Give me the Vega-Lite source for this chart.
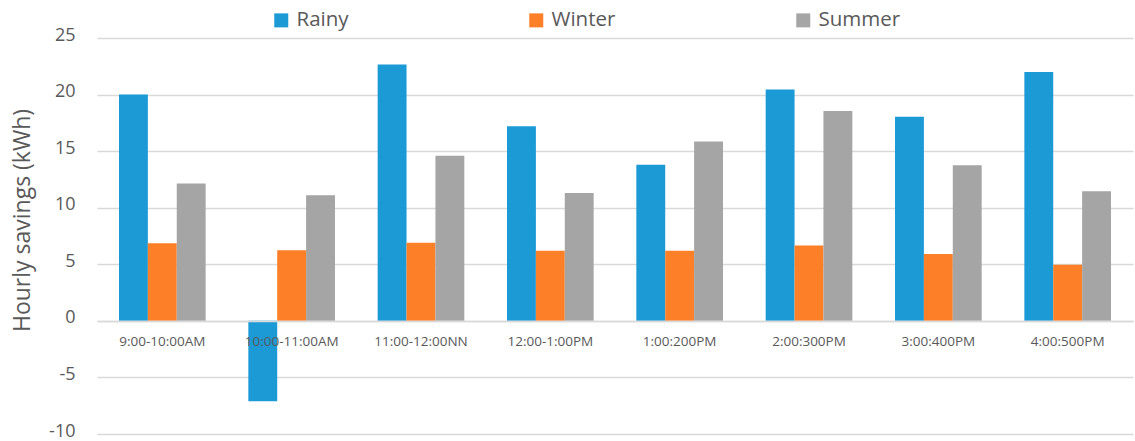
{
  "$schema": "https://vega.github.io/schema/vega-lite/v6.json",
  "width": 1036,
  "height": 396,
  "autosize": {"type": "none"},
  "padding": {"left": 97, "top": 38, "right": 2, "bottom": 7},
  "background": "white",
  "config": {
    "view": {"stroke": null},
    "font": "Open Sans"
  },
  "data": {
    "values": [
      {"slot": "9:00-10:00AM", "season": "Rainy", "savings": 20.0},
      {"slot": "9:00-10:00AM", "season": "Winter", "savings": 6.85},
      {"slot": "9:00-10:00AM", "season": "Summer", "savings": 12.15},
      {"slot": "10:00-11:00AM", "season": "Rainy", "savings": -7.1},
      {"slot": "10:00-11:00AM", "season": "Winter", "savings": 6.25},
      {"slot": "10:00-11:00AM", "season": "Summer", "savings": 11.1},
      {"slot": "11:00-12:00NN", "season": "Rainy", "savings": 22.65},
      {"slot": "11:00-12:00NN", "season": "Winter", "savings": 6.9},
      {"slot": "11:00-12:00NN", "season": "Summer", "savings": 14.6},
      {"slot": "12:00-1:00PM", "season": "Rainy", "savings": 17.2},
      {"slot": "12:00-1:00PM", "season": "Winter", "savings": 6.2},
      {"slot": "12:00-1:00PM", "season": "Summer", "savings": 11.3},
      {"slot": "1:00:200PM", "season": "Rainy", "savings": 13.8},
      {"slot": "1:00:200PM", "season": "Winter", "savings": 6.2},
      {"slot": "1:00:200PM", "season": "Summer", "savings": 15.85},
      {"slot": "2:00:300PM", "season": "Rainy", "savings": 20.45},
      {"slot": "2:00:300PM", "season": "Winter", "savings": 6.65},
      {"slot": "2:00:300PM", "season": "Summer", "savings": 18.55},
      {"slot": "3:00:400PM", "season": "Rainy", "savings": 18.05},
      {"slot": "3:00:400PM", "season": "Winter", "savings": 5.9},
      {"slot": "3:00:400PM", "season": "Summer", "savings": 13.75},
      {"slot": "4:00:500PM", "season": "Rainy", "savings": 22.0},
      {"slot": "4:00:500PM", "season": "Winter", "savings": 4.95},
      {"slot": "4:00:500PM", "season": "Summer", "savings": 11.45}
    ]
  },
  "mark": {"type": "bar"},
  "encoding": {
    "x": {
      "field": "slot",
      "type": "nominal",
      "sort": null,
      "scale": {"paddingInner": 0.33, "paddingOuter": 0.17},
      "axis": {
        "title": null,
        "orient": "bottom",
        "offset": -113,
        "zindex": 1,
        "grid": false,
        "ticks": false,
        "labelAngle": 0,
        "labelFontSize": 13.5,
        "labelColor": "#595959",
        "labelPadding": 13,
        "labelFont": "Open Sans",
        "domainColor": "#d9d9d9",
        "domainWidth": 1.5
      }
    },
    "xOffset": {
      "field": "season",
      "type": "nominal",
      "sort": ["Rainy", "Winter", "Summer"],
      "scale": {"paddingInner": 0, "paddingOuter": 0}
    },
    "y": {
      "field": "savings",
      "type": "quantitative",
      "scale": {"domain": [-10, 25], "nice": false, "zero": false},
      "axis": {
        "title": "Hourly savings (kWh)",
        "titleFontSize": 23,
        "titleFontWeight": "normal",
        "titleColor": "#595959",
        "titleFont": "Open Sans",
        "titleY": 182,
        "titleX": -75,
        "titleAngle": -90,
        "titleBaseline": "middle",
        "titleAlign": "center",
        "values": [-10, -5, 0, 5, 10, 15, 20, 25],
        "labelExpr": "'' + datum.value",
        "domain": false,
        "ticks": false,
        "labelFontSize": 18,
        "labelColor": "#595959",
        "labelPadding": 22,
        "labelOffset": -3,
        "labelFont": "Open Sans",
        "gridColor": "#d9d9d9",
        "gridWidth": 1.5,
        "zindex": 0
      }
    },
    "color": {
      "field": "season",
      "type": "nominal",
      "scale": {
        "domain": ["Rainy", "Winter", "Summer"],
        "range": ["#1b9ad6", "#fd7f27", "#a5a5a5"]
      },
      "legend": {
        "title": null,
        "orient": "none",
        "direction": "horizontal",
        "legendX": 174,
        "legendY": -28,
        "symbolType": "square",
        "symbolSize": 196,
        "symbolStrokeWidth": 0,
        "labelFontSize": 20.5,
        "labelColor": "#595959",
        "labelFont": "Open Sans",
        "labelOffset": 5,
        "columnPadding": 177
      }
    }
  }
}
